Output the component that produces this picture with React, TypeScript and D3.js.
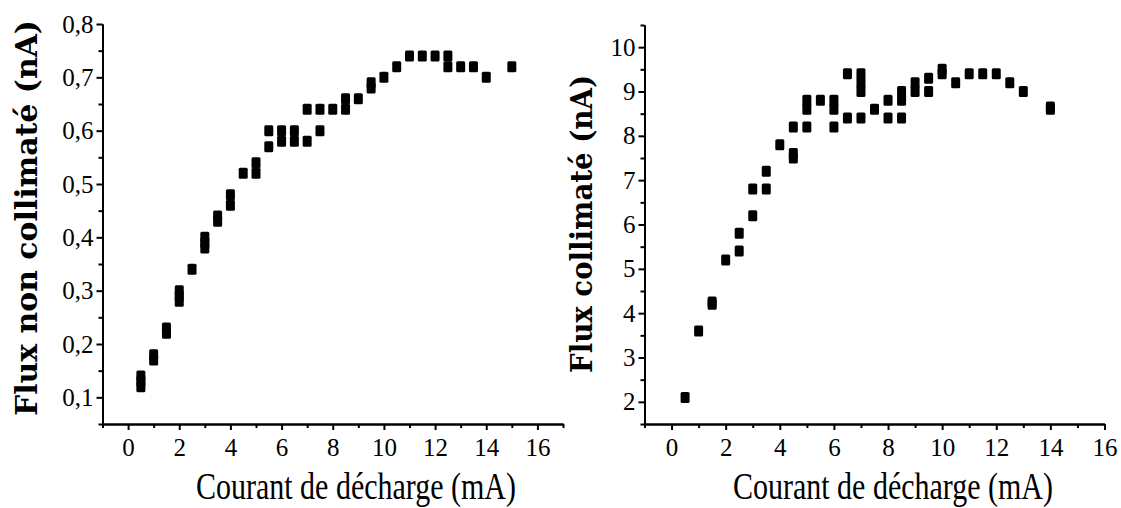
import { useEffect, useRef } from "react";
import * as d3 from "d3";

// left panel: non collimated flux (nA) vs discharge current (mA)
const leftCurrent = [
  0.5, 0.5, 0.5, 1, 1, 1.5, 1.5, 2, 2, 2, 2.5, 3, 3, 3, 3.5, 3.5, 4, 4, 4.5, 5, 5,
  5.5, 5.5, 6, 6, 6.5, 6.5, 7, 7, 7.5, 7.5, 8, 8.5, 8.5, 9, 9.5, 9.5, 10, 10.5,
  11, 11.5, 12, 12.5, 12.5, 13, 13.5, 14, 15,
];
const leftFlux = [
  0.12, 0.13, 0.14, 0.17, 0.18, 0.22, 0.23, 0.28, 0.29, 0.3, 0.34, 0.38, 0.39,
  0.4, 0.43, 0.44, 0.46, 0.48, 0.52, 0.52, 0.54, 0.57, 0.6, 0.58, 0.6, 0.58, 0.6,
  0.58, 0.64, 0.6, 0.64, 0.64, 0.64, 0.66, 0.66, 0.68, 0.69, 0.7, 0.72, 0.74,
  0.74, 0.74, 0.72, 0.74, 0.72, 0.72, 0.7, 0.72,
];

// right panel: collimated flux (nA)
const rightCurrent = [
  0.5, 1, 1.5, 1.5, 2, 2.5, 2.5, 3, 3, 3.5, 3.5, 4, 4.5, 4.5, 4.5, 5, 5, 5, 5.5,
  6, 6, 6, 6.5, 6.5, 7, 7, 7, 7, 7.5, 8, 8, 8.5, 8.5, 8.5, 9, 9, 9.5, 9.5, 10,
  10, 10.5, 11, 11.5, 12, 12.5, 13, 14, 14,
];
const rightFlux = [
  2.1, 3.6, 4.2, 4.25, 5.2, 5.4, 5.8, 6.2, 6.8, 6.8, 7.2, 7.8, 7.5, 7.6, 8.2, 8.2,
  8.6, 8.8, 8.8, 8.2, 8.6, 8.8, 8.4, 9.4, 8.4, 9.0, 9.2, 9.4, 8.6, 8.4, 8.8, 8.4,
  8.8, 9.0, 9.0, 9.2, 9.0, 9.3, 9.4, 9.5, 9.2, 9.4, 9.4, 9.4, 9.2, 9.0, 8.6, 8.65,
];

const xMajorTicks = [0, 2, 4, 6, 8, 10, 12, 14, 16];
const leftYTicks = [0.1, 0.2, 0.3, 0.4, 0.5, 0.6, 0.7, 0.8];
const rightYTicks = [2, 3, 4, 5, 6, 7, 8, 9, 10];

const xTitle = "Courant de décharge (mA)";
const leftYTitle = "Flux non collimaté (nA)";
const rightYTitle = "Flux collimaté (nA)";

const serif = "'Liberation Serif', 'Times New Roman', serif";
const boldSerif = "'DejaVu Serif', serif";

type Panel = {
  xs: number[];
  ys: number[];
  xDomain: [number, number];
  xRange: [number, number];
  yDomain: [number, number];
  yRange: [number, number];
  yTicks: number[];
  yFormat: (d: number) => string;
  yTitle: string;
  yTitleX: number;
  yTitleY: number;
  yTitleLen: number;
  xTitleX: number;
};

const panels: Panel[] = [
  {
    xs: leftCurrent,
    ys: leftFlux,
    xDomain: [-1, 17],
    xRange: [102.5, 563],
    yDomain: [0.05, 0.8],
    yRange: [424, 24],
    yTicks: leftYTicks,
    yFormat: (d) => d.toFixed(1).replace(".", ","),
    yTitle: leftYTitle,
    yTitleX: 37,
    yTitleY: 218,
    yTitleLen: 396,
    xTitleX: 356,
  },
  {
    xs: rightCurrent,
    ys: rightFlux,
    xDomain: [-1, 16],
    xRange: [644.5, 1104.5],
    yDomain: [1.5, 10.5],
    yRange: [424, 25],
    yTicks: rightYTicks,
    yFormat: (d) => String(d),
    yTitle: rightYTitle,
    yTitleX: 592,
    yTitleY: 224,
    yTitleLen: 298,
    xTitleX: 893,
  },
];

export default function App() {
  const svgRef = useRef<SVGSVGElement>(null);

  useEffect(() => {
    if (!svgRef.current) return;
    const svg = d3.select(svgRef.current);
    svg.selectAll("*").remove();

    panels.forEach((p) => {
      const x = d3.scaleLinear().domain(p.xDomain).range(p.xRange);
      const y = d3.scaleLinear().domain(p.yDomain).range(p.yRange);
      const g = svg.append("g");

      const xMinor = d3.range(Math.ceil(p.xDomain[0]), p.xDomain[1] + 0.01, 2);
      const yStep = p.yTicks[1] - p.yTicks[0];
      const yMinor = d3
        .range(p.yDomain[0], p.yDomain[1] + yStep / 4, yStep / 2)
        .filter((v) => !p.yTicks.some((t) => Math.abs(t - v) < 1e-6));

      const style = (sel: d3.Selection<SVGGElement, unknown, null, undefined>) => {
        sel.select(".domain").attr("stroke", "#000").attr("stroke-width", 2);
        sel.selectAll(".tick line").attr("stroke", "#000").attr("stroke-width", 2);
        sel
          .selectAll(".tick text")
          .attr("fill", "#000")
          .style("font-family", serif)
          .style("font-size", "25px");
      };

      // x axis
      g.append("g")
        .attr("transform", `translate(0,${p.yRange[0]})`)
        .call(d3.axisBottom(x).tickValues(xMinor).tickSize(4).tickSizeOuter(0).tickFormat(() => ""))
        .call(style);
      g.append("g")
        .attr("transform", `translate(0,${p.yRange[0]})`)
        .call(
          d3
            .axisBottom(x)
            .tickValues(xMajorTicks)
            .tickSize(6)
            .tickPadding(8)
            .tickSizeOuter(0)
            .tickFormat((d) => String(d))
        )
        .call(style);

      // y axis
      g.append("g")
        .attr("transform", `translate(${p.xRange[0]},0)`)
        .call(d3.axisLeft(y).tickValues(yMinor).tickSize(4).tickSizeOuter(0).tickFormat(() => ""))
        .call(style);
      g.append("g")
        .attr("transform", `translate(${p.xRange[0]},0)`)
        .call(
          d3
            .axisLeft(y)
            .tickValues(p.yTicks)
            .tickSize(6)
            .tickPadding(3)
            .tickSizeOuter(0)
            .tickFormat((d) => p.yFormat(d as number))
        )
        .call(style);

      // markers
      const w = 9;
      const h = 11;
      g.append("g")
        .selectAll("rect")
        .data(p.xs.map((v, i) => [v, p.ys[i]]))
        .enter()
        .append("rect")
        .attr("x", (d) => x(d[0]) - w / 2)
        .attr("y", (d) => y(d[1]) - h / 2)
        .attr("width", w)
        .attr("height", h)
        .attr("rx", 1.5)
        .attr("fill", "#000");

      // titles
      g.append("text")
        .attr("transform", `translate(${p.xTitleX},499) scale(1,1.25)`)
        .attr("text-anchor", "middle")
        .style("font-family", serif)
        .style("font-size", "30px")
        .attr("fill", "#000")
        .text(xTitle);

      g.append("text")
        .attr("transform", `translate(${p.yTitleX},${p.yTitleY}) rotate(-90)`)
        .attr("text-anchor", "middle")
        .attr("textLength", p.yTitleLen)
        .attr("lengthAdjust", "spacingAndGlyphs")
        .style("font-family", boldSerif)
        .style("font-weight", "bold")
        .style("font-size", "30px")
        .attr("fill", "#000")
        .text(p.yTitle);
    });
  }, []);

  return (
    <svg
      ref={svgRef}
      width={1121}
      height={508}
      style={{ position: "absolute", left: 0, top: 0, background: "#fff" }}
    />
  );
}
